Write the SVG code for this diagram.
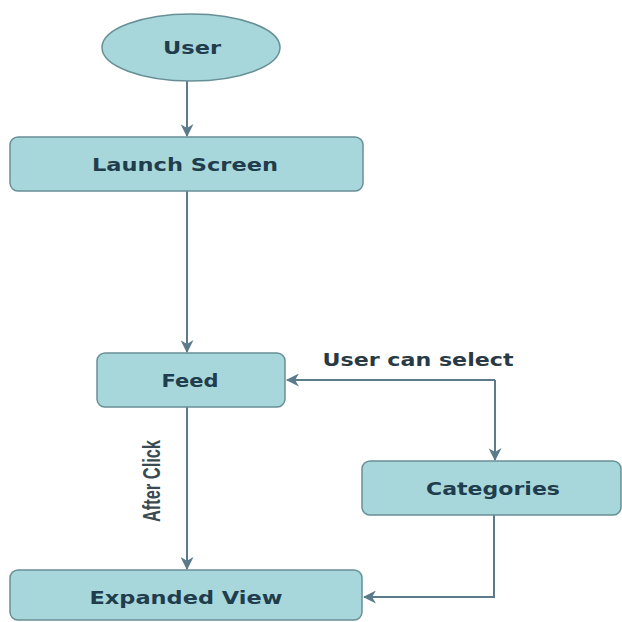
<svg xmlns="http://www.w3.org/2000/svg" width="622" height="622" viewBox="0 0 622 622">
<defs>
<style>
.box{fill:#a8d7db;stroke:#678f96;stroke-width:1.5}
.lbl{font-family:"DejaVu Sans","Liberation Sans",sans-serif;font-weight:bold;fill:#1f3d4c;font-size:17px}
.edge{fill:none;stroke:#5b7b8b;stroke-width:2}
.elbl{font-family:"DejaVu Sans","Liberation Sans",sans-serif;font-weight:bold;fill:#2a3a45;font-size:18px}
.vlbl{font-family:"Liberation Sans Narrow","Liberation Sans",sans-serif;font-weight:bold;fill:#3a4a52;font-size:24px}
</style>
<marker id="arr" viewBox="0 0 12 12" refX="11" refY="6" markerWidth="13" markerHeight="13" markerUnits="userSpaceOnUse" orient="auto">
<path d="M0,0 L12,6 L0,12 L3.5,6 z" fill="#5b7b8b"/>
</marker>
</defs>
<rect width="622" height="622" fill="#ffffff"/>
<g id="connectors">
<line class="edge" x1="187" y1="81" x2="187" y2="136" marker-end="url(#arr)"/>
<line class="edge" x1="187" y1="191" x2="187" y2="352" marker-end="url(#arr)"/>
<line class="edge" x1="187" y1="407" x2="187" y2="569" marker-end="url(#arr)"/>
<polyline class="edge" points="495,380 287,380" marker-end="url(#arr)"/>
<polyline class="edge" points="495,380 495,460" marker-end="url(#arr)"/>
<polyline class="edge" points="494,515 494,597 364,597" marker-end="url(#arr)"/>
<text class="elbl" x="418" y="366" text-anchor="middle" textLength="191" lengthAdjust="spacingAndGlyphs">User can select</text>
<text class="vlbl" transform="translate(152,481) rotate(-90)" x="0" y="8" text-anchor="middle" textLength="82" lengthAdjust="spacingAndGlyphs">After Click</text>
</g>
<g id="user">
<ellipse class="box" cx="191" cy="47.5" rx="89" ry="33.5"/>
<text class="lbl" x="192" y="54" text-anchor="middle" textLength="58" lengthAdjust="spacingAndGlyphs">User</text>
</g>
<g id="launch">
<rect class="box" x="10" y="137" width="353" height="54" rx="8"/>
<text class="lbl" x="185" y="171" text-anchor="middle" textLength="186" lengthAdjust="spacingAndGlyphs">Launch Screen</text>
</g>
<g id="feed">
<rect class="box" x="97" y="353" width="188" height="54" rx="8"/>
<text class="lbl" x="190" y="387" text-anchor="middle" textLength="57" lengthAdjust="spacingAndGlyphs">Feed</text>
</g>
<g id="categories">
<rect class="box" x="362" y="461" width="259" height="54" rx="8"/>
<text class="lbl" x="493" y="495" text-anchor="middle" textLength="134" lengthAdjust="spacingAndGlyphs">Categories</text>
</g>
<g id="expanded">
<rect class="box" x="10" y="570" width="352" height="50" rx="8"/>
<text class="lbl" x="186" y="604" text-anchor="middle" textLength="193" lengthAdjust="spacingAndGlyphs">Expanded View</text>
</g>
</svg>
